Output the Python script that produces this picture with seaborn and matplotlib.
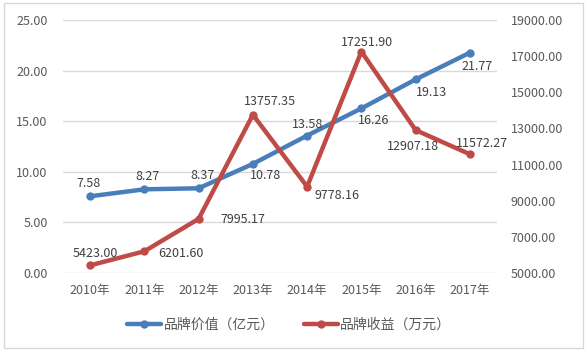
import matplotlib
matplotlib.use("Agg")
import matplotlib.pyplot as plt
import seaborn as sns
import pandas as pd
from matplotlib.patches import Rectangle
from matplotlib.lines import Line2D

years = ["2010年", "2011年", "2012年", "2013年", "2014年", "2015年", "2016年", "2017年"]
brand_value = [7.58, 8.27, 8.37, 10.78, 13.58, 16.26, 19.13, 21.77]
brand_income = [5423.00, 6201.60, 7995.17, 13757.35, 9778.16, 17251.90, 12907.18, 11572.27]
value_label = "品牌价值（亿元）"
income_label = "品牌收益（万元）"

# label offsets in pixels (style only)
value_offsets = [(-2, 13), (3, 13), (4, 13), (13, -12), (0, 11), (12, -12), (16, -13), (7, -14)]
income_offsets = [(5, 12), (37, -2), (44, -1), (17, 13), (30, -9), (6, 9), (-3, -16), (12, 11)]

sns.set_theme(style="white")
plt.rcParams['font.family'] = ['Noto Sans CJK SC', 'DejaVu Sans']

BLUE = "#4A7EBB"
RED = "#BE4B48"
TXT = "#595959"
GRID = "#D9D9D9"

df = pd.DataFrame({"year": years, "value": brand_value, "income": brand_income})

fig = plt.figure(figsize=(5.88, 3.57), dpi=100)
W, H = 588, 357
ax = fig.add_axes([63 / W, 1 - 273 / H, (497 - 63) / W, (273 - 20) / H])
ax2 = ax.twinx()

sns.lineplot(data=df, x="year", y="value", ax=ax, color=BLUE, linewidth=3.2,
             marker="o", markersize=6, markeredgewidth=0, sort=False)
sns.lineplot(data=df, x="year", y="income", ax=ax2, color=RED, linewidth=3.2,
             marker="o", markersize=6, markeredgewidth=0, sort=False)

ax.set_ylim(0, 25)
ax.set_yticks([0, 5, 10, 15, 20, 25])
ax.set_yticklabels([f"{v:.2f}" for v in [0, 5, 10, 15, 20, 25]])
ax2.set_ylim(5000, 19000)
rt = list(range(5000, 19001, 2000))
ax2.set_yticks(rt)
ax2.set_yticklabels([f"{v:.2f}" for v in rt])
ax.set_xlim(-0.5, len(years) - 0.5)

ax.grid(axis="y", color=GRID, linewidth=1)
ax.set_axisbelow(True)
ax.set_xlabel("")
ax.set_ylabel("")
ax2.set_ylabel("")
for a in (ax, ax2):
    for s in a.spines.values():
        s.set_visible(False)
ax.tick_params(axis="y", length=0, pad=11, labelsize=9, labelcolor=TXT)
ax.tick_params(axis="x", length=0, pad=8, labelsize=9, labelcolor=TXT)
ax2.tick_params(axis="y", length=0, pad=10, labelsize=9, labelcolor=TXT)

for i, (v, off) in enumerate(zip(brand_value, value_offsets)):
    ax.annotate(f"{v:.2f}", (i, v), xytext=off, textcoords="offset pixels",
                ha="center", va="center", fontsize=9, color="#404040")
for i, (v, off) in enumerate(zip(brand_income, income_offsets)):
    ax2.annotate(f"{v:.2f}", (i, v), xytext=off, textcoords="offset pixels",
                 ha="center", va="center", fontsize=9, color="#404040")

handles = [Line2D([], [], color=BLUE, linewidth=3.2, marker="o", markersize=6, markeredgewidth=0),
           Line2D([], [], color=RED, linewidth=3.2, marker="o", markersize=6, markeredgewidth=0)]
fig.legend(handles, [value_label, income_label], loc="center", bbox_to_anchor=(289 / W, 1 - 325 / H),
           ncol=2, frameon=False, fontsize=10, labelcolor=TXT, handlelength=2.45,
           handletextpad=0.15, columnspacing=2.1)

fig.patches.append(Rectangle((4 / W, 1 - 348 / H), (583 - 4) / W, (348 - 3) / H,
                             transform=fig.transFigure, fill=False, edgecolor=GRID, linewidth=1))

fig.savefig("out.png", dpi=100)
